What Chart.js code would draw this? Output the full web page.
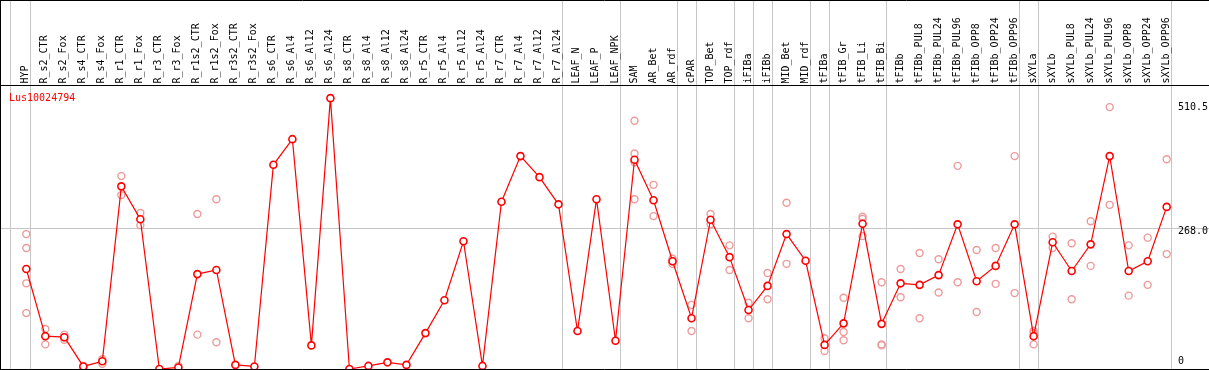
<!DOCTYPE html>
<html>
<head>
<meta charset="utf-8">
<script src="https://cdn.jsdelivr.net/npm/chart.js@4.4.1/dist/chart.umd.min.js"></script>
<style>
  html, body { margin: 0; padding: 0; background: #fff; }
  #wrap { width: 1209px; height: 370px; position: relative; }
</style>
</head>
<body>
<div id="wrap"><canvas id="exprChart" width="1209" height="370"></canvas></div>
<script>
/* ============================================================
   DATA
   ============================================================ */

const geneName = 'Lus10024794';

const samples = [
  'HYP', 'R_s2_CTR', 'R_s2_Fox', 'R_s4_CTR', 'R_s4_Fox', 'R_r1_CTR', 'R_r1_Fox', 'R_r3_CTR', 'R_r3_Fox',
  'R_r1s2_CTR', 'R_r1s2_Fox', 'R_r3s2_CTR', 'R_r3s2_Fox', 'R_s6_CTR', 'R_s6_Al4', 'R_s6_Al12', 'R_s6_Al24',
  'R_s8_CTR', 'R_s8_Al4', 'R_s8_Al12', 'R_s8_Al24', 'R_r5_CTR', 'R_r5_Al4', 'R_r5_Al12', 'R_r5_Al24',
  'R_r7_CTR', 'R_r7_Al4', 'R_r7_Al12', 'R_r7_Al24', 'LEAF_N', 'LEAF_P', 'LEAF_NPK', 'SAM', 'AR_Bet', 'AR_rdf',
  'cPAR', 'TOP_Bet', 'TOP_rdf', 'iFIBa', 'iFIBb', 'MID_Bet', 'MID_rdf', 'tFIBa', 'tFIB_Gr', 'tFIB_Li', 'tFIB_Bi',
  'tFIBb', 'tFIBb_PUL8', 'tFIBb_PUL24', 'tFIBb_PUL96', 'tFIBb_OPP8', 'tFIBb_OPP24', 'tFIBb_OPP96',
  'sXYLa', 'sXYLb', 'sXYLb_PUL8', 'sXYLb_PUL24', 'sXYLb_PUL96', 'sXYLb_OPP8', 'sXYLb_OPP24', 'sXYLb_OPP96',
];

// mean expression per sample
const means = [
  195, 64, 62, 5, 15, 356, 292, 0, 3, 185, 193, 8, 5, 398, 448, 46, 528,
  0, 6, 13, 8, 70, 134, 249, 6, 326, 415, 374, 321, 74, 331, 55, 408, 329, 210,
  99, 291, 218, 115, 162, 263, 211, 47, 89, 283, 88,
  167, 164, 183, 282, 171, 201, 282,
  64, 247, 191, 243, 415, 191, 210, 316,
];

// individual replicates per sample
const replicates = [
  [263, 236, 167, 109], [78, 48], [67, 57, 62], [6, 3], [19, 10], [376, 339], [304, 280], [], [6, 0],
  [302, 67], [331, 52], [], [], [], [], [], [],
  [], [], [], [], [], [], [], [],
  [], [], [], [], [], [], [], [484, 420, 403, 331], [359, 298], [215, 210, 205],
  [125, 74], [302, 282], [241, 193], [129, 99], [187, 136], [324, 205], [], [60, 35], [139, 72, 56], [297, 293, 259], [169, 48, 46],
  [195, 140], [226, 99], [214, 149], [396, 169], [232, 111], [236, 166], [415, 148],
  [74, 48, 70], [258, 236], [245, 136], [288, 201], [510.5, 320], [241, 143], [256, 164], [409, 224],
];

// last sample index of each tissue group
const groupEnds = [0, 28, 31, 34, 35, 37, 38, 39, 41, 42, 45, 52, 53, 60];

const yTicks      = [510.5, 268, 0];
const yTickLabels = ['510.5', '268.0', '0'];
const gridValue   = 268;

/* ============================================================
   DECORATION PLUGIN
   ============================================================ */

const MONO = '10px "DejaVu Sans Mono", "Liberation Mono", monospace';
const GRID = '#c6c6c6';

const framePlugin = {
  id: 'frame',
  beforeDatasetsDraw(chart) {
    const { ctx, width, height, scales: { x, y } } = chart;
    ctx.save();
    ctx.strokeStyle = GRID;
    ctx.lineWidth = 1;

    // horizontal guide
    const gy = Math.floor(y.getPixelForValue(gridValue) - 3) + 0.5;
    ctx.beginPath(); ctx.moveTo(0, gy); ctx.lineTo(width, gy); ctx.stroke();

    // group separators
    const xs = [x.getPixelForValue(0) - 15.5, ...groupEnds.map(i => x.getPixelForValue(i) + 4.5)];
    xs.forEach(px => {
      const lx = Math.floor(px) + 0.5;
      ctx.beginPath(); ctx.moveTo(lx, 0); ctx.lineTo(lx, height); ctx.stroke();
    });
    ctx.restore();
  },
  afterDraw(chart) {
    const { ctx, width, height, scales: { x, y } } = chart;
    ctx.save();

    // black frame
    ctx.strokeStyle = '#000';
    ctx.lineWidth = 1;
    ctx.beginPath();
    ctx.moveTo(0, 0.5);  ctx.lineTo(width, 0.5);
    ctx.moveTo(0, 85.5); ctx.lineTo(width, 85.5);
    ctx.moveTo(0, height - 0.5); ctx.lineTo(width, height - 0.5);
    ctx.moveTo(0.5, 0);  ctx.lineTo(0.5, height);
    ctx.stroke();

    // rotated sample names
    ctx.font = MONO;
    ctx.fillStyle = '#000';
    ctx.textAlign = 'left';
    ctx.textBaseline = 'alphabetic';
    samples.forEach((s, i) => {
      ctx.save();
      ctx.translate(x.getPixelForValue(i) + 2, 83.5);
      ctx.rotate(-Math.PI / 2);
      ctx.fillText(s, 0, 0);
      ctx.restore();
    });

    // gene name
    ctx.fillStyle = '#ff0000';
    ctx.fillText(geneName, 9, 101);

    // value labels at the right
    ctx.fillStyle = '#000';
    ctx.textBaseline = 'middle';
    yTicks.forEach((v, k) => {
      const py = Math.min(y.getPixelForValue(v), height - 8.5);
      ctx.fillText(yTickLabels[k], 1178, py);
    });
    ctx.restore();
  },
};

/* ============================================================
   CHART
   ============================================================ */

function renderExpressionChart() {
  const ctx = document.getElementById('exprChart');

  const meanPoints = means.map((v, i) => ({ x: i, y: v }));
  const repPoints  = replicates.flatMap((reps, i) => reps.map(v => ({ x: i, y: v })));

  new Chart(ctx, {
    type: 'line',
    data: {
      datasets: [
        {
          label: geneName,
          data: meanPoints,
          borderColor: '#ff0000',
          borderWidth: 1.2,
          tension: 0,
          pointRadius: 3.5,
          pointBorderWidth: 1.6,
          pointBorderColor: '#ff0000',
          pointBackgroundColor: '#ffffff',
          order: 0,
        },
        {
          label: 'replicates',
          type: 'scatter',
          data: repPoints,
          showLine: false,
          pointRadius: 3.5,
          pointBorderWidth: 1.4,
          pointBorderColor: '#ee9a9a',
          pointBackgroundColor: 'rgba(0,0,0,0)',
          order: 1,
        },
      ],
    },
    options: {
      responsive: false,
      animation: false,
      events: [],
      layout: { autoPadding: false, padding: { top: 85, bottom: 1, left: 0, right: 0 } },
      plugins: { legend: { display: false }, tooltip: { enabled: false } },
      scales: {
        x: { type: 'linear', min: -1.384, max: 62.226, display: false },
        y: { type: 'linear', min: 0, max: 553.6, display: false },
      },
    },
    plugins: [framePlugin],
  });
}

renderExpressionChart();
</script>
</body>
</html>
